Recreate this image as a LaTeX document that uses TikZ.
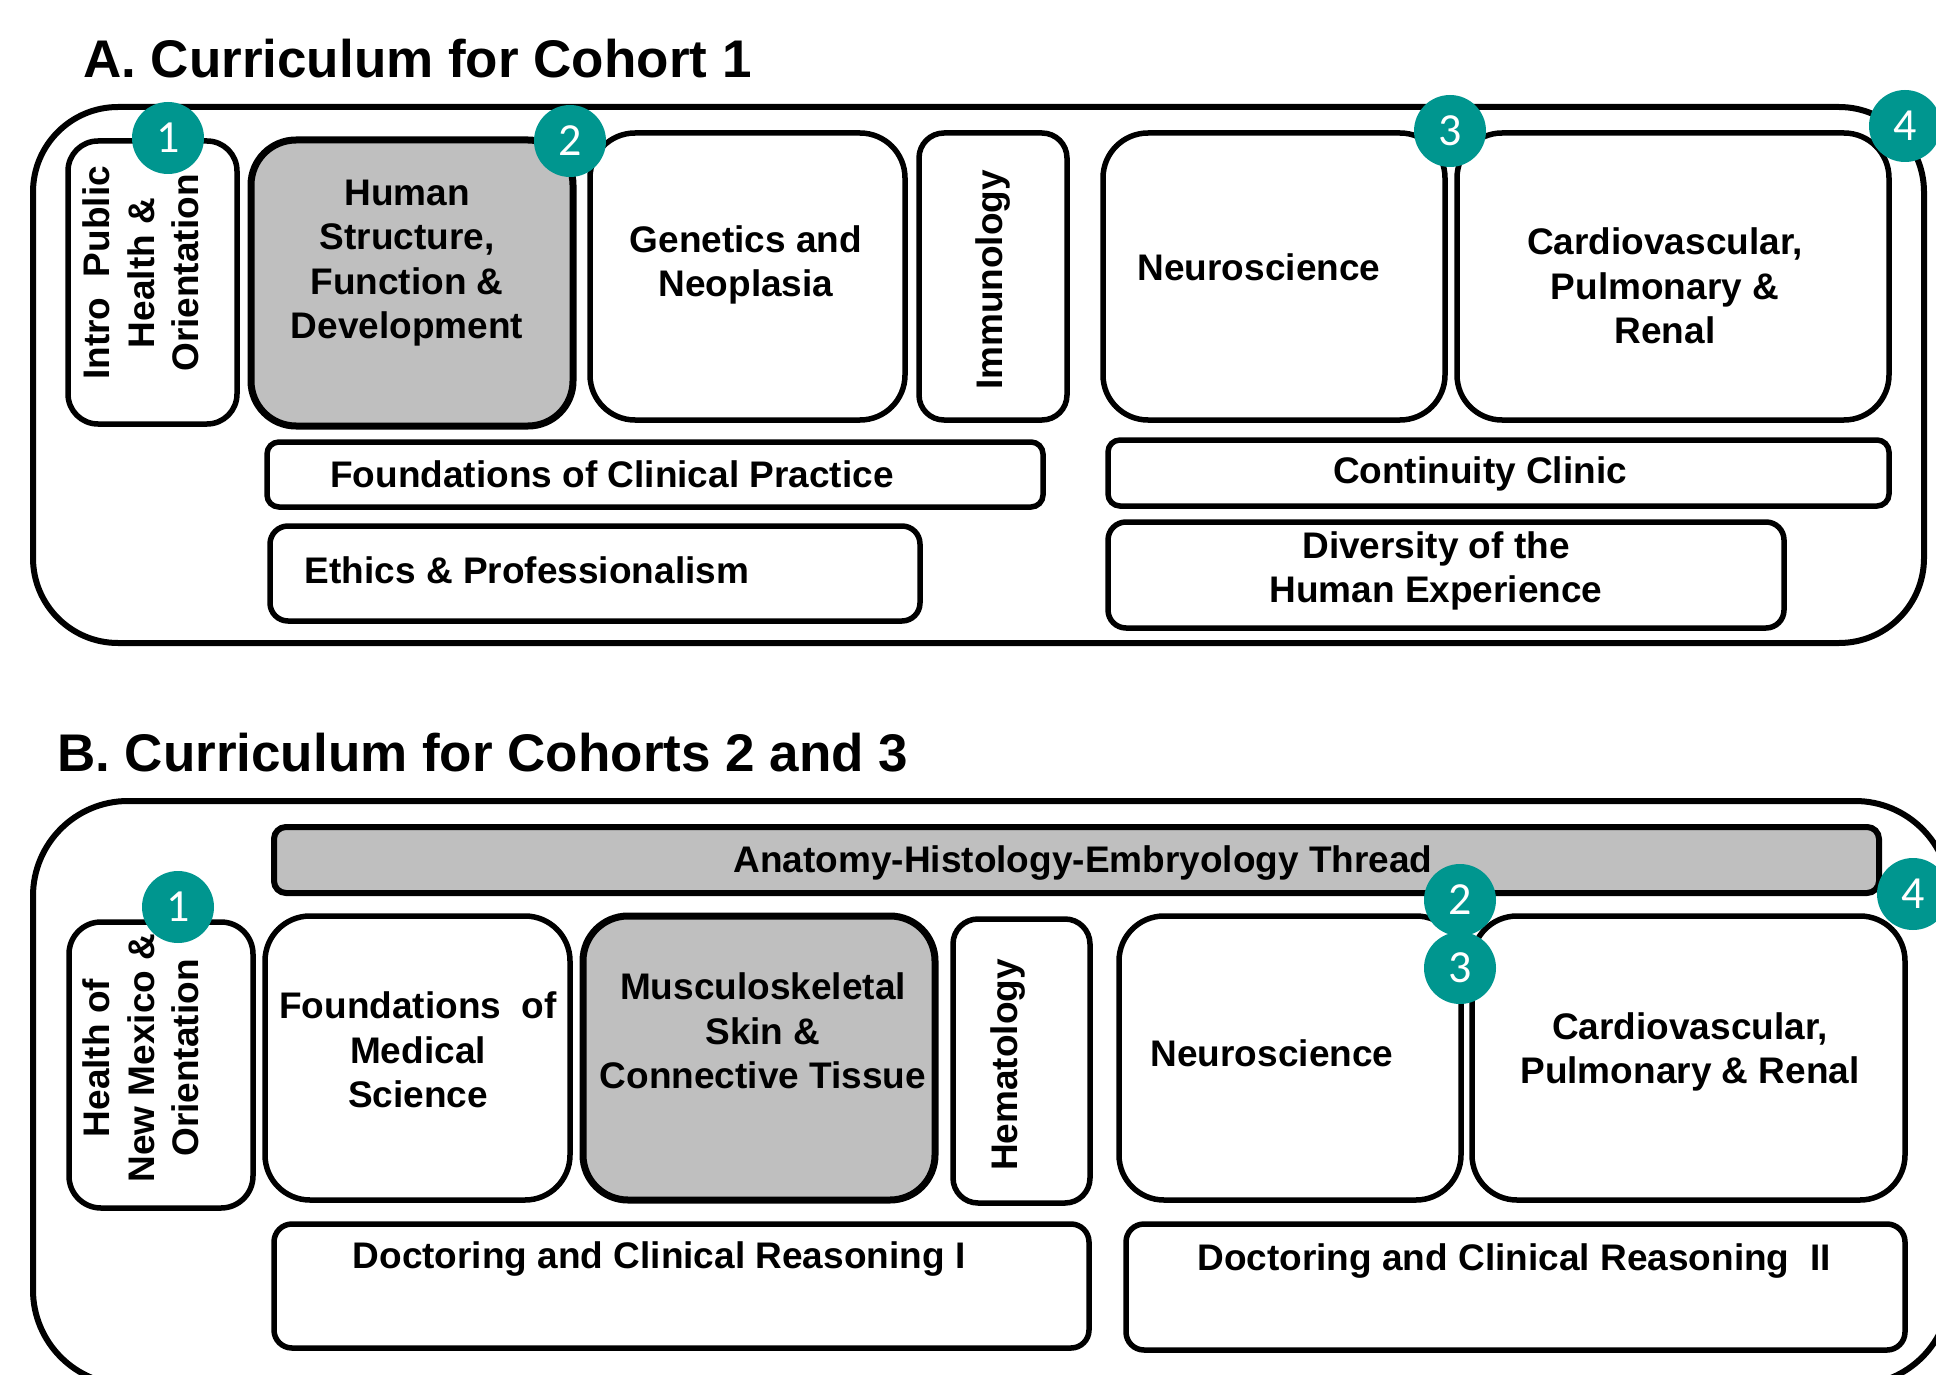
\documentclass[tikz,border=0pt]{standalone}
\usepackage{fontspec}
\setmainfont{Liberation Sans}
\newfontfamily\badgefont{Carlito}
\usepackage{tikz}
\definecolor{Teal}{HTML}{00968F}
\definecolor{Shade}{HTML}{BFBFBF}
\definecolor{Ink}{HTML}{000000}

\begin{document}
\begin{tikzpicture}[x=1pt,y=-1pt,
    course/.style={font=\fontsize{37}{44.5}\selectfont\bfseries,align=center,inner sep=0pt},
    cohort/.style={font=\fontsize{53}{60}\selectfont\bfseries,anchor=base west,inner sep=0pt},
    badge/.style={circle,fill=Teal,minimum size=72pt,inner sep=0pt,text=white,
      font=\badgefont\fontsize{46}{46}\selectfont}]
  \useasboundingbox (0,0) rectangle (1936,1375);
  \clip (0,0) rectangle (1936,1375);
  \node[cohort] (titleA) at (83,78) {A. Curriculum for Cohort 1};
  \node[cohort] (titleB) at (57,771) {B. Curriculum for Cohorts 2 and 3};
  \draw[Ink,line width=6pt,rounded corners=85pt] (33,107) rectangle (1924,643);
  \draw[Ink,line width=6pt,rounded corners=95pt] (33,801) rectangle (1950,1385);
  \foreach \xa/\ya/\xb/\yb/\r/\c/\lw in {
    68/141/237/424/30/white/5.5, 251/140/573/426/45/Shade/7,
    590/133/905/420/45/white/5.5, 919/133/1067/420/25/white/5.5,
    1103/133/1445/420/45/white/5.5, 1457/133/1889/420/45/white/5.5,
    267/442/1043/507/12/white/5.5, 270/526/920/621/18/white/5.5,
    1108/440/1889/506/12/white/5.5, 1108/522/1784/628/18/white/5.5,
    274/827/1879/893/12/Shade/6, 69/922/253/1208/32/white/5.5,
    265/916/570/1200/45/white/5.5, 583/916/935/1200/45/Shade/7,
    953/919/1090/1203/25/white/5.5, 1119/916/1461/1200/45/white/5.5,
    1472/916/1905/1200/45/white/5.5, 274/1224/1089/1348/18/white/5.5,
    1126/1224/1905/1350/18/white/5.5} {
    \draw[Ink,line width=\lw pt,fill=\c,rounded corners=\r pt] (\xa,\ya) rectangle (\xb,\yb);
  }
  \node[course,rotate=90] (introA) at (141,273) {Intro\ \ Public\\Health \&\\Orientation};
  \node[course] (humanA) at (407,263) {Human\\Structure,\\Function \&\\Development};
  \node[course] (geneA) at (746,265) {Genetics and\\Neoplasia};
  \node[course,rotate=90] (immA) at (993,280) {Immunology};
  \node[course] (neuroA) at (1259,267) {Neuroscience};
  \node[course] (cardioA) at (1665,286) {Cardiovascular,\\Pulmonary \&\\Renal};
  \node[course] (fcpA) at (612,474) {Foundations of Clinical Practice};
  \node[course] (ethicsA) at (527,570) {Ethics \& Professionalism};
  \node[course] (clinicA) at (1480,474) {Continuity Clinic};
  \node[course] (diversA) at (1436,571) {Diversity of the\\Human Experience};
  \node[course] (threadB) at (1083,863) {Anatomy-Histology-Embryology Thread};
  \node[course,rotate=90] (nmB) at (141,1058) {Health of\\New Mexico \&\\Orientation};
  \node[course] (fmsB) at (418,1050) {Foundations\ \ of\\Medical\\Science};
  \node[course] (muscB) at (763,1031) {Musculoskeletal\\Skin \&\\Connective Tissue};
  \node[course,rotate=90] (hemB) at (1008,1065) {Hematology};
  \node[course] (neuroB) at (1272,1053) {Neuroscience};
  \node[course] (cardioB) at (1690,1052) {Cardiovascular,\\Pulmonary \& Renal};
  \node[course] (dcr1B) at (659,1259) {Doctoring and Clinical Reasoning I};
  \node[course] (dcr2B) at (1514,1261) {Doctoring and Clinical Reasoning\ \ II};
  \foreach \n/\x/\y in {1/168/138, 2/570/141, 3/1450/131, 4/1905/126}
    \node[badge] (badgeA\n) at (\x,\y) {\n};
  \foreach \n/\x/\y in {1/178/907, 2/1460/900, 3/1460/968, 4/1913/894}
    \node[badge] (badgeB\n) at (\x,\y) {\n};
\end{tikzpicture}
\end{document}
